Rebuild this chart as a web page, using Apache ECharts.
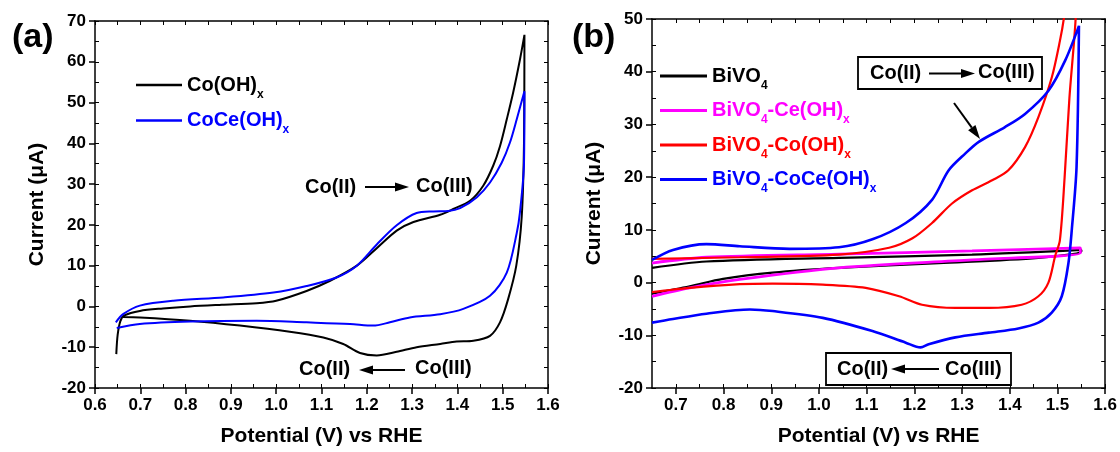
<!DOCTYPE html>
<html>
<head>
<meta charset="utf-8">
<script src="https://cdn.jsdelivr.net/npm/echarts@6/dist/echarts.min.js"></script>
<style>
    html, body { margin: 0; padding: 0; background: #fff; }
    .echarts1 { width: 1120px; height: 452px; }
</style>
</head>
<body>
<div class="echarts1"></div>
<script>
// ---- panel (a): potential (V vs RHE) / current (uA), one CV loop per series
const coOHxV = [0.647, 0.650, 0.656, 0.665, 0.699, 0.750, 0.810, 0.880, 0.957, 1.000, 1.067, 1.119, 1.178, 1.222, 1.266, 1.303, 1.362, 1.391, 1.428, 1.457, 1.479, 1.494, 1.509, 1.523, 1.538, 1.548, 1.547, 1.542, 1.530, 1.512, 1.494, 1.472, 1.435, 1.398, 1.362, 1.310, 1.266, 1.222, 1.185, 1.148, 1.104, 1.030, 0.920, 0.810, 0.699, 0.662];
const coOHxI = [-11.7, -7.0, -3.6, -2.2, -1.1, -0.5, 0.0, 0.4, 0.8, 1.4, 3.8, 6.3, 10.0, 14.3, 18.6, 20.7, 22.5, 23.9, 25.9, 29.6, 34.5, 39.3, 45.9, 52.4, 60.5, 66.6, 40.0, 22.0, 10.0, 1.8, -3.9, -7.2, -8.4, -8.6, -9.2, -10.0, -11.1, -12.0, -11.4, -9.2, -7.6, -6.2, -4.7, -3.5, -2.7, -2.6];

const coCeOHxV = [0.646, 0.662, 0.699, 0.773, 0.883, 0.994, 1.067, 1.133, 1.178, 1.222, 1.266, 1.310, 1.347, 1.380, 1.406, 1.443, 1.472, 1.498, 1.516, 1.531, 1.548, 1.547, 1.538, 1.531, 1.509, 1.472, 1.413, 1.362, 1.295, 1.251, 1.214, 1.163, 1.067, 0.957, 0.810, 0.699, 0.648];
const coCeOHxI = [-3.9, -1.9, 0.2, 1.4, 2.2, 3.4, 5.0, 7.1, 10.0, 15.2, 19.9, 22.9, 23.3, 23.4, 24.1, 26.8, 30.4, 35.3, 40.2, 45.9, 52.8, 35.0, 23.0, 18.0, 8.3, 2.6, -0.6, -1.9, -2.7, -3.9, -4.7, -4.3, -3.9, -3.5, -3.7, -4.3, -5.3];

// ---- panel (b)
const bivo4V = [0.650, 0.764, 1.042, 1.321, 1.550, 1.550, 1.460, 1.251, 1.042, 0.903, 0.799, 0.729, 0.650];
const bivo4I = [2.8, 4.0, 4.7, 5.3, 6.2, 5.9, 4.7, 3.7, 2.8, 1.9, 0.7, -0.7, -2.1];

const bivoCeV = [0.650, 0.764, 1.042, 1.321, 1.548, 1.548, 1.321, 1.042, 0.834, 0.729, 0.650];
const bivoCeI = [3.7, 4.8, 5.4, 6.0, 6.6, 5.6, 4.3, 2.8, 0.6, -1.0, -2.6];

const bivoCoV = [0.650, 0.834, 1.042, 1.147, 1.196, 1.237, 1.279, 1.321, 1.363, 1.397, 1.432, 1.460, 1.488, 1.505, 1.514, 1.526, 1.540, 1.538, 1.525, 1.515, 1.505, 1.495, 1.481, 1.460, 1.425, 1.356, 1.286, 1.216, 1.168, 1.098, 1.008, 0.903, 0.834, 0.729, 0.650];
const bivoCoI = [4.5, 4.8, 5.3, 6.6, 8.4, 11.3, 15.0, 17.5, 19.4, 21.3, 25.7, 31.4, 38.9, 45.8, 50.5, 60.0, 60.0, 50.0, 35.0, 20.0, 8.0, 5.0, 0.0, -2.6, -4.2, -4.8, -4.8, -4.2, -2.6, -1.0, -0.4, -0.2, -0.3, -1.0, -1.8];

const bivoCoCeV = [0.650, 0.694, 0.764, 0.834, 0.938, 1.042, 1.112, 1.182, 1.237, 1.272, 1.307, 1.335, 1.390, 1.432, 1.481, 1.516, 1.545, 1.540, 1.530, 1.523, 1.509, 1.488, 1.460, 1.418, 1.356, 1.286, 1.230, 1.213, 1.182, 1.112, 1.008, 0.903, 0.855, 0.764, 0.694, 0.650];
const bivoCoCeI = [4.3, 6.2, 7.3, 6.9, 6.4, 6.7, 8.2, 11.3, 15.7, 21.3, 24.5, 26.7, 29.5, 32.0, 36.4, 42.1, 48.7, 22.0, 10.0, 3.7, -2.6, -5.7, -7.6, -8.7, -9.5, -10.4, -11.7, -12.3, -11.4, -9.2, -6.7, -5.4, -5.1, -5.9, -6.9, -7.6];

// ---- tick labels
const aXTicks = [0.6, 0.7, 0.8, 0.9, 1.0, 1.1, 1.2, 1.3, 1.4, 1.5, 1.6];
const bXTicks = [0.7, 0.8, 0.9, 1.0, 1.1, 1.2, 1.3, 1.4, 1.5, 1.6];
const aYTicks = [-20, -10, 0, 10, 20, 30, 40, 50, 60, 70];
const bYTicks = [-20, -10, 0, 10, 20, 30, 40, 50];

const legendA = ['Co(OH)x', 'CoCe(OH)x'];
const legendB = ['BiVO4', 'BiVO4-Ce(OH)x', 'BiVO4-Co(OH)x', 'BiVO4-CoCe(OH)x'];
// even entries normal text, odd entries subscript
const legendParts = {
    'Co(OH)x': ['Co(OH)', 'x'],
    'CoCe(OH)x': ['CoCe(OH)', 'x'],
    'BiVO4': ['BiVO', '4'],
    'BiVO4-Ce(OH)x': ['BiVO', '4', '-Ce(OH)', 'x'],
    'BiVO4-Co(OH)x': ['BiVO', '4', '-Co(OH)', 'x'],
    'BiVO4-CoCe(OH)x': ['BiVO', '4', '-CoCe(OH)', 'x']
};
const colorKey = {
    'Co(OH)x': 'k', 'CoCe(OH)x': 'b', 'BiVO4': 'k',
    'BiVO4-Ce(OH)x': 'm', 'BiVO4-Co(OH)x': 'r', 'BiVO4-CoCe(OH)x': 'b'
};
const colors = { k: '#000000', b: '#0000ff', r: '#ff0000', m: '#ff00ff' };

const font = '"Liberation Sans", Arial, Helvetica, sans-serif';

function pairs(xs, ys) {
    return xs.map(function (x, i) { return [x, ys[i]]; });
}

// midpoints between major ticks, for the small inner ticks
function withMinor(ticks) {
    let out = [];
    for (let i = 0; i < ticks.length; i++) {
        out.push(ticks[i]);
        if (i < ticks.length - 1) out.push(+((ticks[i] + ticks[i + 1]) / 2).toFixed(3));
    }
    return out;
}

function legendText(name) {
    let k = colorKey[name];
    return legendParts[name].map(function (p, i) {
        return '{' + (i % 2 ? 's' : 't') + k + '|' + p + '}';
    }).join('');
}

// normal text centred in a tall line, subscripts sit on the line bottom
let rich = {};
Object.keys(colors).forEach(function (k) {
    rich['t' + k] = { color: colors[k], fontFamily: font, fontWeight: 'bold', fontSize: 20, lineHeight: 31, verticalAlign: 'middle' };
    rich['s' + k] = { color: colors[k], fontFamily: font, fontWeight: 'bold', fontSize: 12, lineHeight: 12, verticalAlign: 'bottom' };
});

const axisLineStyle = { color: '#000', width: 1.5 };

function mainX(grid, min, max, ticks) {
    return {
        type: 'value', gridIndex: grid, position: 'bottom', min: min, max: max,
        name: 'Potential (V) vs RHE', nameLocation: 'middle', nameGap: 38,
        nameTextStyle: { fontFamily: font, fontWeight: 'bold', fontSize: 21, color: '#000' },
        axisLine: { onZero: false, lineStyle: axisLineStyle },
        axisTick: { inside: false, length: 6, customValues: ticks, lineStyle: axisLineStyle },
        axisLabel: {
            customValues: ticks, margin: 9, color: '#000',
            fontFamily: font, fontWeight: 'bold', fontSize: 17,
            formatter: function (v) { return v.toFixed(1); }
        },
        splitLine: { show: false }
    };
}

function mainY(grid, min, max, ticks) {
    return {
        type: 'value', gridIndex: grid, position: 'left', min: min, max: max,
        name: 'Current (\u03bcA)', nameLocation: 'middle', nameGap: 47,
        nameTextStyle: { fontFamily: font, fontWeight: 'bold', fontSize: 21, color: '#000' },
        axisLine: { onZero: false, lineStyle: axisLineStyle },
        axisTick: { inside: false, length: 6, customValues: ticks, lineStyle: axisLineStyle },
        axisLabel: { customValues: ticks, margin: 9, color: '#000', fontFamily: font, fontWeight: 'bold', fontSize: 17 },
        splitLine: { show: false }
    };
}

// frame (top / right) and inner tick axes: no labels, ticks pointing into the plot
function tickAxis(type, grid, position, min, max, ticks, showLine) {
    return {
        type: 'value', gridIndex: grid, position: position, min: min, max: max,
        axisLine: { show: showLine, onZero: false, lineStyle: axisLineStyle },
        axisTick: { show: true, inside: true, length: 4, customValues: withMinor(ticks), lineStyle: { color: '#000', width: 1 } },
        axisLabel: { show: false },
        splitLine: { show: false }
    };
}

function cv(name, xs, ys, xi, width) {
    return {
        name: name, type: 'line', xAxisIndex: xi, yAxisIndex: xi,
        data: pairs(xs, ys), smooth: 0.3, showSymbol: false, clip: true,
        lineStyle: { color: colors[colorKey[name]], width: width },
        itemStyle: { color: colors[colorKey[name]] }
    };
}

function text(x, y, str, size) {
    return {
        type: 'text', x: x, y: y, z: 100,
        style: { text: str, fill: '#000', font: 'bold ' + (size || 20) + 'px ' + font, align: 'left', verticalAlign: 'middle' }
    };
}

function arrow(x1, y1, x2, y2) {
    let a = Math.atan2(y2 - y1, x2 - x1);
    let len = 14, half = 4.5;
    let bx = x2 - len * Math.cos(a), by = y2 - len * Math.sin(a);
    return [
        { type: 'line', z: 100, shape: { x1: x1, y1: y1, x2: bx, y2: by }, style: { stroke: '#000', lineWidth: 2 } },
        {
            type: 'polygon', z: 100,
            shape: { points: [[x2, y2], [bx - half * Math.sin(a), by + half * Math.cos(a)], [bx + half * Math.sin(a), by - half * Math.cos(a)]] },
            style: { fill: '#000' }
        }
    ];
}

function box(x, y, w, h) {
    return { type: 'rect', z: 99, shape: { x: x, y: y, width: w, height: h }, style: { fill: '#fff', stroke: '#000', lineWidth: 1.8 } };
}

window.addEventListener('load', function () {
    let main = document.querySelectorAll('.echarts1');
    let chart = echarts.init(main[0]);

    let graphics = [
        text(12, 38, '(a)', 34),
        text(572, 38, '(b)', 34),
        // panel (a) notes
        text(305, 187, 'Co(II)'),
        text(416, 186, 'Co(III)'),
        text(299, 369, 'Co(II)'),
        text(415, 368, 'Co(III)'),
        // panel (b) notes
        box(858, 57, 184, 32),
        text(870, 73, 'Co(II)'),
        text(978, 72, 'Co(III)'),
        box(826, 353, 185, 32),
        text(837, 369, 'Co(II)'),
        text(945, 369, 'Co(III)')
    ]
        .concat(arrow(365, 187, 409, 187))
        .concat(arrow(405, 370, 359, 370))
        .concat(arrow(929, 73.5, 975, 73.5))
        .concat(arrow(954, 103, 980, 139))
        .concat(arrow(939, 369, 891, 369));

    let option = {
        animation: false,
        backgroundColor: '#fff',
        grid: [
            { left: 95, top: 21, width: 453, height: 369 },
            { left: 652, top: 19, width: 455, height: 370 }
        ],
        legend: [
            {
                data: legendA, left: 131, top: 70, orient: 'vertical', icon: 'rect',
                itemWidth: 46, itemHeight: 2.5, itemGap: 10, selectedMode: false,
                formatter: legendText, textStyle: { rich: rich }
            },
            {
                data: legendB, left: 655, top: 61, orient: 'vertical', icon: 'rect',
                itemWidth: 47, itemHeight: 3, itemGap: 9, selectedMode: false,
                formatter: legendText, textStyle: { rich: rich }
            }
        ],
        xAxis: [
            mainX(0, 0.6, 1.6, aXTicks),
            tickAxis('x', 0, 'top', 0.6, 1.6, aXTicks, true),
            tickAxis('x', 0, 'bottom', 0.6, 1.6, aXTicks, false),
            mainX(1, 0.65, 1.6, bXTicks),
            tickAxis('x', 1, 'top', 0.65, 1.6, bXTicks, true),
            tickAxis('x', 1, 'bottom', 0.65, 1.6, bXTicks, false)
        ],
        yAxis: [
            mainY(0, -20, 70, aYTicks),
            tickAxis('y', 0, 'right', -20, 70, aYTicks, true),
            tickAxis('y', 0, 'left', -20, 70, aYTicks, false),
            mainY(1, -20, 50, bYTicks),
            tickAxis('y', 1, 'right', -20, 50, bYTicks, true),
            tickAxis('y', 1, 'left', -20, 50, bYTicks, false)
        ],
        series: [
            cv('Co(OH)x', coOHxV, coOHxI, 0, 2),
            cv('CoCe(OH)x', coCeOHxV, coCeOHxI, 0, 2),
            cv('BiVO4', bivo4V, bivo4I, 3, 2.2),
            cv('BiVO4-Ce(OH)x', bivoCeV, bivoCeI, 3, 2.8),
            cv('BiVO4-Co(OH)x', bivoCoV, bivoCoI, 3, 2.2),
            cv('BiVO4-CoCe(OH)x', bivoCoCeV, bivoCoCeI, 3, 2.6)
        ],
        graphic: graphics
    };
    chart.setOption(option);
}, false);
</script>
</body>
</html>
